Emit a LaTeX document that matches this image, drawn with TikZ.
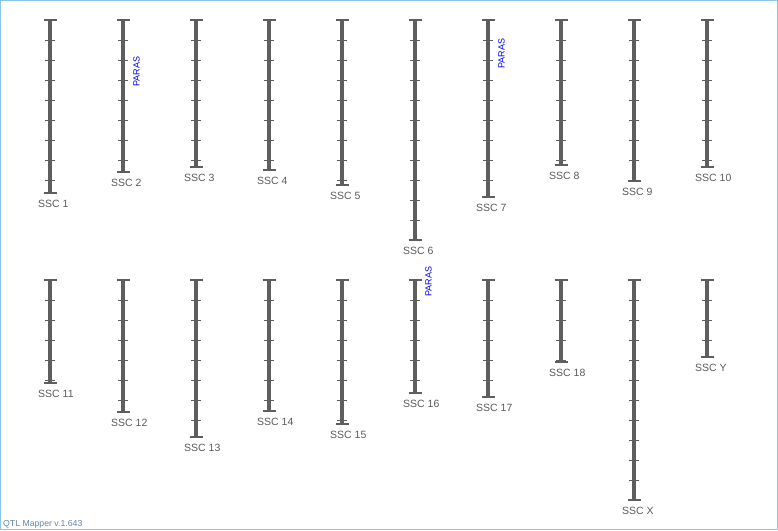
\documentclass[tikz,border=0pt]{standalone}
\usepackage{fontspec}
\setmainfont{Liberation Sans}
\usetikzlibrary{positioning}

\definecolor{chromgray}{HTML}{5E5E5E}
\definecolor{labelgray}{HTML}{5A5A5A}
\definecolor{framblue}{HTML}{8EC3EA}
\definecolor{versblue}{HTML}{6684A8}

\begin{document}
\begin{tikzpicture}[x=1pt, y=-1pt,
    bar/.style={line width=4pt, chromgray},
    endcap/.style={line width=1.4pt, chromgray},
    tick/.style={line width=1pt, chromgray},
    chromlabel/.style={anchor=west, inner sep=0pt, text=labelgray,
        font=\fontsize{10.5}{12}\selectfont},
    qtl/.style={rotate=90, anchor=west, inner sep=0pt, text=blue,
        font=\fontsize{9}{10}\selectfont}]
    \useasboundingbox (0,0) rectangle (778,530);
    \draw[framblue, line width=1pt] (0.5,0.5) rectangle (777.5,529.5);

    % chromosomes: id / x / top / bottom / name
    \foreach \id/\x/\top/\bot/\name in {
        c1/50/20/193/SSC 1, c2/123/20/172/SSC 2, c3/196/20/167/SSC 3,
        c4/269/20/170/SSC 4, c5/342/20/185/SSC 5, c6/415/20/240/SSC 6,
        c7/488/20/197/SSC 7, c8/561/20/165/SSC 8, c9/634/20/181/SSC 9,
        c10/707/20/167/SSC 10,
        c11/50/280/383/SSC 11, c12/123/280/412/SSC 12, c13/196/280/437/SSC 13,
        c14/269/280/411/SSC 14, c15/342/280/424/SSC 15, c16/415/280/393/SSC 16,
        c17/488/280/397/SSC 17, c18/561/280/362/SSC 18, cX/634/280/500/SSC X,
        cY/707/280/357/SSC Y}{
        \coordinate (\id top) at (\x,\top);
        \coordinate (\id bot) at (\x,\bot);
        \draw[bar] (\id top) -- (\id bot);
        \draw[endcap] ([xshift=-6.5pt]\id top) -- ([xshift=6.5pt]\id top);
        \draw[endcap] ([xshift=-6.5pt]\id bot) -- ([xshift=6.5pt]\id bot);
        \pgfmathtruncatemacro\nticks{(\bot-\top-1)/20}
        \foreach \k in {1,...,\nticks}{
            \draw[tick] ([xshift=-5pt, yshift=-20*\k pt]\id top)
                -- ([xshift=5pt, yshift=-20*\k pt]\id top);
        }
        \node[chromlabel] (\id lab) at ([xshift=-12pt, yshift=-11pt]\id bot) {\name};
    }

    % QTL labels
    \node[qtl] (q2) at (136.5,87) {PARAS};
    \node[qtl] (q7) at (501.5,69) {PARAS};
    \node[qtl] (q16) at (428.5,297) {PARAS};

    \node[anchor=base west, inner sep=0pt, text=versblue,
        font=\fontsize{8.7}{10}\selectfont] (ver) at (3,526.5) {QTL Mapper v.1.643};
\end{tikzpicture}
\end{document}
